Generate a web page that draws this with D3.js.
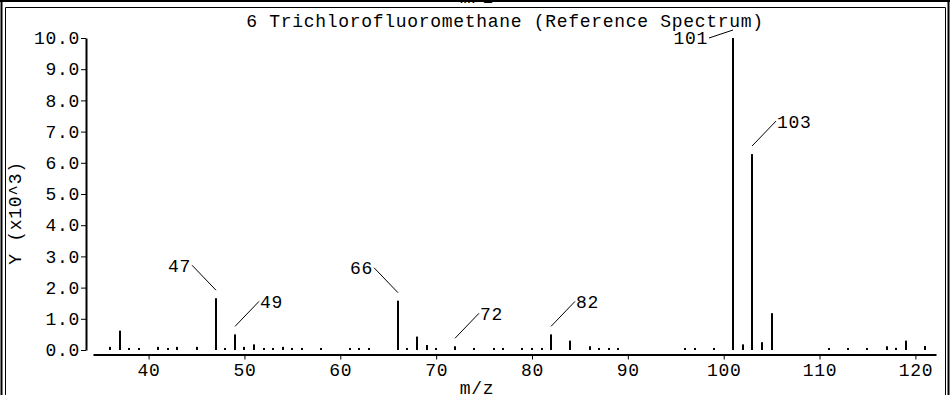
<!DOCTYPE html>
<html>
<head>
<meta charset="utf-8">
<script src="https://cdn.jsdelivr.net/npm/d3@7"></script>
<style>
  html, body { margin: 0; padding: 0; background: #fff; }
  svg { display: block; }
  text { font-family: "Liberation Mono", "DejaVu Sans Mono", monospace; font-size: 18px; letter-spacing: 0.7px; fill: #000; }
</style>
</head>
<body>
<div id="container"></div>
<script>
/* DATA */
var title = "6 Trichlorofluoromethane (Reference Spectrum)";
var xLabel = "m/z";
var yLabel = "Y (x10^3)";

// m/z of every line in the spectrum
var mz = [36, 37, 38, 39, 41, 42, 43, 45, 47, 48, 49, 50, 51, 52, 53, 54, 55, 56, 58,
  61, 62, 63, 66, 67, 68, 69, 70, 72, 74, 76, 77, 79, 80, 81, 82, 84, 86, 87, 88, 89,
  96, 97, 99, 101, 102, 103, 104, 105, 111, 113, 115, 117, 118, 119, 121];
// intensity, x10^3
var intensity = [0.1, 0.62, 0.05, 0.05, 0.1, 0.05, 0.1, 0.1, 1.66, 0.05, 0.5, 0.1, 0.18, 0.05, 0.05, 0.1, 0.05, 0.05, 0.05,
  0.05, 0.05, 0.05, 1.58, 0.05, 0.43, 0.16, 0.05, 0.12, 0.05, 0.05, 0.05, 0.05, 0.05, 0.05, 0.5, 0.3, 0.12, 0.05, 0.05, 0.05,
  0.05, 0.05, 0.06, 10.0, 0.18, 6.28, 0.25, 1.18, 0.05, 0.05, 0.05, 0.12, 0.07, 0.3, 0.13];

// labelled peaks
var labelled = [47, 49, 66, 72, 82, 101, 103];

var xTicks = [40, 50, 60, 70, 80, 90, 100, 110, 120];
var yTicks = [0, 1, 2, 3, 4, 5, 6, 7, 8, 9, 10];

/* LAYOUT */
var width = 950, height = 395;
var leftSide = { 47: true, 66: true, 101: true };

var svg = d3.select("#container")
  .append("svg")
  .attr("width", width)
  .attr("height", height);

// frames
svg.append("rect").attr("x", 0).attr("y", 0).attr("width", width).attr("height", 2).attr("fill", "#000");
svg.append("text").attr("x", 477).attr("y", 3).attr("text-anchor", "middle").text(xLabel);
svg.append("line").attr("x1", 1.5).attr("x2", 1.5).attr("y1", 0).attr("y2", height).attr("stroke", "#000").attr("stroke-width", 2);
svg.append("line").attr("x1", 948.5).attr("x2", 948.5).attr("y1", 0).attr("y2", height).attr("stroke", "#000").attr("stroke-width", 2);
svg.append("path")
  .attr("d", "M5.5," + height + "V7.5H945.5V" + height)
  .attr("fill", "none").attr("stroke", "#000");

// SCALES
var x = d3.scaleLinear().domain([34.2, 122.15]).range([93, 936]);
var y = d3.scaleLinear().domain([0, 10]).range([350, 38]);

// axes
var yAxis = svg.append("g")
  .attr("transform", "translate(86,0)")
  .call(d3.axisLeft(y).tickValues(yTicks).tickFormat(d3.format(".1f")).tickSize(5).tickSizeOuter(0).tickPadding(1));
yAxis.select(".domain").attr("stroke-width", 2);
yAxis.selectAll("text").style("font-size", null).style("font-family", null);

var xAxis = svg.append("g")
  .attr("transform", "translate(0,354.5)")
  .call(d3.axisBottom(x).tickValues(xTicks).tickSize(5).tickSizeOuter(0).tickPadding(4));
xAxis.select(".domain").attr("stroke-width", 2);

svg.selectAll(".tick text").attr("font-size", null).attr("font-family", null);
svg.selectAll("g").attr("font-size", null).attr("font-family", null);

// axis labels
svg.append("text")
  .attr("x", 477).attr("y", 394)
  .attr("text-anchor", "middle")
  .text(xLabel);

svg.append("text")
  .attr("transform", "translate(21,213) rotate(-90)")
  .attr("text-anchor", "middle")
  .text(yLabel);

svg.append("text")
  .attr("x", 505).attr("y", 26.5)
  .attr("text-anchor", "middle")
  .text(title);

// bars
var peaks = mz.map(function(d, i) { return { mz: d, v: intensity[i] }; });

svg.selectAll("rect.peak")
  .data(peaks)
  .enter()
  .append("rect")
  .attr("class", "peak")
  .attr("x", function(d) { return Math.round(x(d.mz)) - 1; })
  .attr("y", function(d) { return Math.min(y(d.v), y(0) - 2); })
  .attr("width", 2)
  .attr("height", function(d) { return Math.max(y(0) - y(d.v), 2); })
  .attr("fill", "#000");

// peak labels
var lab = peaks.filter(function(d) { return labelled.indexOf(d.mz) >= 0; });

lab.forEach(function(d) {
  var px = Math.round(x(d.mz));
  var sx = px, sy = y(d.v) - 8;
  var dir = leftSide[d.mz] ? -1 : 1;
  var ex = sx + dir * 24, ey = Math.max(sy - 25, y(10));
  svg.append("line")
    .attr("x1", sx).attr("y1", sy)
    .attr("x2", ex).attr("y2", ey)
    .attr("stroke", "#000").attr("stroke-width", 1);
  svg.append("text")
    .attr("x", ex + dir * 1).attr("y", ey)
    .attr("dy", "0.36em")
    .attr("text-anchor", dir < 0 ? "end" : "start")
    .text(d.mz);
});
</script>
</body>
</html>
